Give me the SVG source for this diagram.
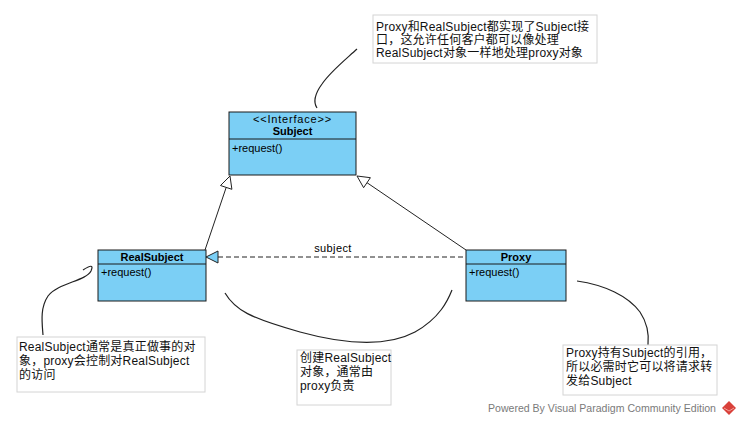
<svg xmlns="http://www.w3.org/2000/svg" width="742" height="425" viewBox="0 0 742 425">
<style>
.cls{fill:#7BCFF5;stroke:#1a1a1a;stroke-width:1}
.div{stroke:#1a1a1a;stroke-width:1}
.t{font-family:"Liberation Sans","Noto Sans CJK SC",sans-serif;font-size:11px;fill:#000}
.b{font-weight:bold;text-anchor:middle}
.note{fill:#fff;stroke:#d4d4d4;stroke-width:1}
.nt{font-family:"Liberation Sans","Noto Sans CJK SC",sans-serif;font-size:12px;fill:#111;letter-spacing:0.2px}
.ln{fill:none;stroke:#222;stroke-width:1}
.gen{fill:#fff;stroke:#222;stroke-width:1}
.curve{fill:none;stroke:#222;stroke-width:1.2}
</style>
<rect width="742" height="425" fill="#fff"/>
<g id="connectors">
  <line class="ln" x1="205" y1="250" x2="226.2" y2="187.4"/>
  <polygon class="gen" points="230,176 231.9,189.3 220.5,185.5"/>
  <line class="ln" x1="466" y1="250" x2="367" y2="182.7"/>
  <polygon class="gen" points="357,176 363.6,187.7 370.4,177.7"/>
  <line class="ln" x1="218" y1="257" x2="466" y2="257" stroke-dasharray="5,3"/>
  <polygon points="206,257 218,251 218,263" fill="#7BCFF5" stroke="#222" stroke-width="1"/>
  <text class="t" x="333" y="252" text-anchor="middle" letter-spacing="0.4">subject</text>
  <path class="curve" d="M357 49 C345 60 330 72 322 84 C314 95 313 102 317 108"/>
  <path class="curve" d="M83 270 Q95 262 91 271 C86 281 58 283 48 296 C40 308 42 322 43 335"/>
  <path class="curve" d="M225 293 C235 310 250 318 300 332 C340 343 385 348 415 332 C440 318 448 300 452 290"/>
  <path class="curve" d="M577 281 C605 285 628 296 640 312 C648 324 649 335 648 345"/>
</g>
<g id="subject">
  <rect class="cls" x="229" y="112" width="127" height="63"/>
  <line class="div" x1="229" y1="139" x2="356" y2="139"/>
  <text class="t" x="292.5" y="123" text-anchor="middle" letter-spacing="0.8">&lt;&lt;Interface&gt;&gt;</text>
  <text class="t b" x="292.5" y="135">Subject</text>
  <text class="t" x="232" y="152">+request()</text>
</g>
<g id="realsubject">
  <rect class="cls" x="98" y="250" width="108" height="51"/>
  <line class="div" x1="98" y1="264" x2="206" y2="264"/>
  <text class="t b" x="152" y="261">RealSubject</text>
  <text class="t" x="101" y="276">+request()</text>
</g>
<g id="proxy">
  <rect class="cls" x="466" y="250" width="100" height="51"/>
  <line class="div" x1="466" y1="264" x2="566" y2="264"/>
  <text class="t b" x="516" y="261">Proxy</text>
  <text class="t" x="469" y="276">+request()</text>
</g>
<g id="note-subject">
  <rect class="note" x="373" y="15" width="224" height="48"/>
  <text class="nt" x="376" y="31">Proxy和RealSubject都实现了Subject接</text>
  <text class="nt" x="376" y="44">口，这允许任何客户都可以像处理</text>
  <text class="nt" x="376" y="57">RealSubject对象一样地处理proxy对象</text>
</g>
<g id="note-realsubject">
  <rect class="note" x="17" y="337" width="188" height="55"/>
  <text class="nt" x="19" y="351">RealSubject通常是真正做事的对</text>
  <text class="nt" x="19" y="365">象，proxy会控制对RealSubject</text>
  <text class="nt" x="19" y="379">的访问</text>
</g>
<g id="note-create">
  <rect class="note" x="297" y="350" width="94" height="55"/>
  <text class="nt" x="300" y="362">创建RealSubject</text>
  <text class="nt" x="300" y="376">对象，通常由</text>
  <text class="nt" x="300" y="390">proxy负责</text>
</g>
<g id="note-proxy">
  <rect class="note" x="563" y="345" width="154" height="50"/>
  <text class="nt" x="566" y="357">Proxy持有Subject的引用，</text>
  <text class="nt" x="566" y="371">所以必需时它可以将请求转</text>
  <text class="nt" x="566" y="385">发给Subject</text>
</g>
<g id="watermark">
  <text x="488" y="412" font-family="'Liberation Sans',sans-serif" font-size="11" fill="#7a7a7a" textLength="228" lengthAdjust="spacingAndGlyphs">Powered By Visual Paradigm Community Edition</text>
  <polygon points="729,401 736,408 729,415 722,408" fill="#d9413a"/>
  <polyline points="724,408 729,411 734,408" fill="none" stroke="#f3a09a" stroke-width="1"/>
</g>
</svg>
